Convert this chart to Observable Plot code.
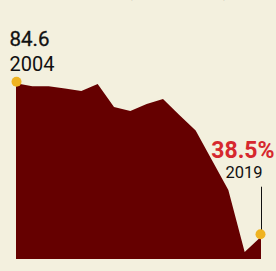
<!DOCTYPE html>
<html>
<head>
<meta charset="utf-8">
<script src="https://cdn.jsdelivr.net/npm/d3@7"></script>
<script src="https://cdn.jsdelivr.net/npm/@observablehq/plot@0.6"></script>
<style>
  html, body { margin: 0; padding: 0; background: #f3f0de; }
  #wrap { position: relative; width: 276px; height: 271px; overflow: hidden; background: #f3f0de; }
  #sub { position: absolute; left: 9px; top: -15px; font: 15px/15px Roboto, sans-serif; color: #555; white-space: nowrap; }
  svg { overflow: visible; }
</style>
</head>
<body>
<div id="wrap"><div id="sub">Share of the poor (in percentage)</div></div>
<script>
const years = [2004, 2005, 2006, 2007, 2008, 2009, 2010, 2011, 2012, 2013, 2014, 2015, 2016, 2017, 2018, 2019];
const values = [84.6, 83.7, 83.7, 83.0, 82.3, 84.4, 77.5, 76.3, 78.4, 79.9, 75.1, 70.4, 61.5, 52.5, 33.9, 38.5];
const yBase = 31.8;
const startLabel = "84.6";
const endLabel = "38.5%";

const data = years.map((y, i) => ({year: y, v: values[i]}));
const first = [data[0]];
const last = [data[data.length - 1]];

const chart = Plot.plot({
  width: 276,
  height: 271,
  marginLeft: 16,
  marginRight: 15,
  marginTop: 83.3,
  marginBottom: 12,
  x: {domain: [years[0], years[years.length - 1]], axis: null},
  y: {domain: [yBase, values[0]], axis: null},
  style: {background: "transparent", overflow: "visible"},
  marks: [
    Plot.areaY(data, {x: "year", y1: yBase, y2: "v", fill: "#650000"}),
    Plot.ruleX(last, {x: "year", y1: "v", y2: "v", insetTop: -50, stroke: "#111", strokeWidth: 1}),
    Plot.dot(first, {x: "year", y: "v", r: 5, fill: "#efb321", dy: -2}),
    Plot.dot(last, {x: "year", y: "v", r: 5, fill: "#efb321", dx: -1, dy: -3}),
    Plot.text(first, {x: "year", y: "v", text: () => startLabel, textAnchor: "start", lineAnchor: "bottom", dx: -7, dy: -38, fontSize: 20.5, fontWeight: 400, fontFamily: "Roboto", fill: "#111", letterSpacing: "2px", stroke: "#111", strokeWidth: 0.3}),
    Plot.text(first, {x: "year", y: "v", text: d => String(d.year), textAnchor: "start", lineAnchor: "bottom", dx: -7, dy: -13, fontSize: 20, fontFamily: "Roboto", fill: "#111"}),
    Plot.text(last, {x: "year", y: "v", text: () => endLabel, textAnchor: "end", lineAnchor: "bottom", dx: 13, dy: -79, fontSize: 23, fontWeight: 700, fontFamily: "Roboto", fill: "#d6282e"}),
    Plot.text(last, {x: "year", y: "v", text: d => String(d.year), textAnchor: "end", lineAnchor: "bottom", dx: 1, dy: -59, fontSize: 16.5, fontFamily: "Roboto", fill: "#111"})
  ]
});
chart.style.position = "absolute";
chart.style.left = "0";
chart.style.top = "0";
document.getElementById("wrap").appendChild(chart);
</script>
</body>
</html>
